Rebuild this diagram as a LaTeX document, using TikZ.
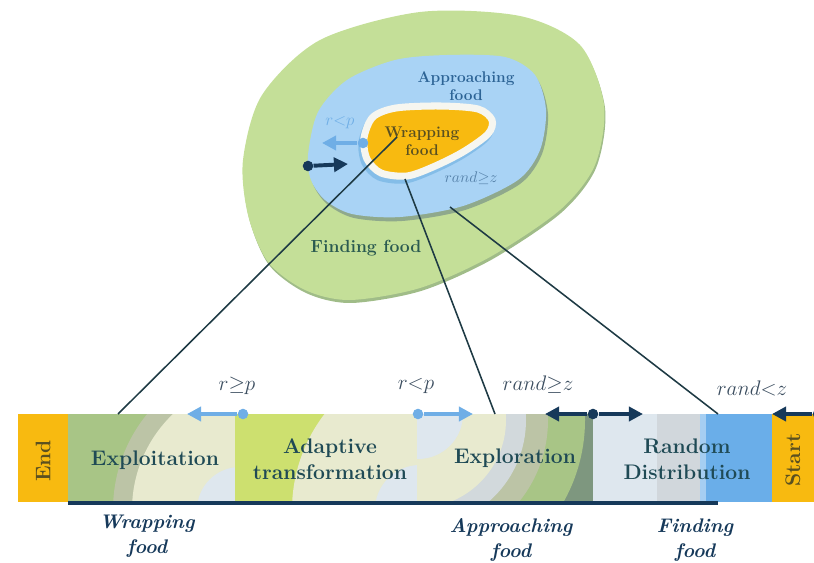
\RequirePackage{fix-cm}
\documentclass[tikz,border=0pt]{standalone}
\usepackage{amsmath}
\usepackage{amssymb}
\usetikzlibrary{shapes,arrows.meta,positioning}

\definecolor{foodorange}{HTML}{F8BA10}
\definecolor{findgreen}{HTML}{C4DF98}
\definecolor{findedge}{HTML}{A0BC88}
\definecolor{approblue}{HTML}{A9D3F5}
\definecolor{approedge}{HTML}{8FA98C}
\definecolor{ringwhite}{HTML}{F6F6F0}
\definecolor{ringshade}{HTML}{84BDE8}
\definecolor{navy}{HTML}{16395A}
\definecolor{lightblue}{HTML}{6FAEE6}
\definecolor{textteal}{HTML}{1F4A55}
\definecolor{approtext}{HTML}{2D6496}
\definecolor{wraptext}{HTML}{5A5020}
\definecolor{findtext}{HTML}{2A5A50}
\definecolor{condgray}{HTML}{3B4D5F}
\definecolor{linkcol}{HTML}{1E3A44}
\definecolor{exgreen}{HTML}{A8C586}
\definecolor{bandgray}{HTML}{BCC4A6}
\definecolor{palebeige}{HTML}{E8EACF}
\definecolor{paleblue}{HTML}{DEE7EE}
\definecolor{yellowgreen}{HTML}{CDE06F}
\definecolor{graybluebd}{HTML}{D2D9DC}
\definecolor{darkband}{HTML}{7E977F}
\definecolor{randgray}{HTML}{D1D7DC}
\definecolor{randblue}{HTML}{6AAEE9}

\newcommand\greenblob{plot[smooth cycle] coordinates {(243,160) (262,95) (320,40) (420,12) (520,16) (580,45) (604,105) (595,165) (560,210) (490,257) (420,288) (350,300) (305,290) (268,262) (248,215)}}
\newcommand\blueblob{plot[smooth cycle] coordinates {(308,155) (318,112) (347,80) (395,60) (447,55) (505,57) (535,75) (546,110) (540,150) (518,180) (463,206) (400,217) (352,214) (325,200) (311,180)}}
\newcommand\foodblob{plot[smooth cycle] coordinates {(364,138) (373,117) (396,108) (440,106) (478,109) (492,120) (488,134) (463,152) (433,167) (407,176) (381,173) (367,159)}}

\begin{document}
\begin{tikzpicture}[x=0.025cm,y=-0.025cm]
    \tikzset{
        blobtext/.style     =   { font=\bfseries\fontsize{11}{13}\selectfont
                                , align=center
                                , inner sep=0pt
                                }
        , bartext/.style    =   { font=\bfseries\fontsize{15}{18.5}\selectfont
                                , text=textteal
                                , align=center
                                , inner sep=0pt
                                }
        , phase/.style      =   { font=\bfseries\itshape\fontsize{14}{17.8}\selectfont
                                , text=navy
                                , align=center
                                , inner sep=0pt
                                }
        , cond/.style       =   { font=\fontsize{15}{18}\selectfont
                                , text=condgray
                                , inner sep=0pt
                                }
        , link/.style       =   { line width=1.1pt
                                , draw=linkcol
                                }
        , lightdot/.style   =   { circle
                                , fill=lightblue
                                , inner sep=0pt
                                , minimum size=7.5pt
                                }
        , darkdot/.style    =   { circle
                                , fill=navy
                                , inner sep=0pt
                                , minimum size=7.5pt
                                }
        , lightarr/.style   =   { line width=2.8pt
                                , draw=lightblue
                                , -{Triangle[length=10pt,width=10pt]}
                                }
        , darkarr/.style    =   { line width=2.8pt
                                , draw=navy
                                , -{Triangle[length=10pt,width=10pt]}
                                }
    }
    \useasboundingbox (0,0) rectangle (814,563);

    % food regions
    \fill[findedge,shift={(1,3)}] \greenblob;
    \fill[findgreen] \greenblob;
    \fill[approedge,shift={(2,4)}] \blueblob;
    \fill[approblue] \blueblob;
    \draw[ringshade,line width=5pt,fill=ringshade,shift={(-2,4)}] \foodblob;
    \draw[ringwhite,line width=5pt,fill=foodorange] \foodblob;

    \node(approach)[blobtext,text=approtext] at (466,86) {Approaching\\food};
    \node(wrap)[blobtext,text=wraptext] at (422,141) {Wrapping\\food};
    \node(find)[blobtext,text=findtext,font=\bfseries\fontsize{12.5}{15}\selectfont] at (366,248) {Finding food};
    \node(rp)[cond,text=lightblue,font=\fontsize{12}{14}\selectfont] at (340,123) {$r{<}p$};
    \node(rz)[cond,text=approtext!80,font=\fontsize{11}{13}\selectfont] at (471,178) {$rand{\geq}z$};

    \node(d1)[lightdot] at (363,143) {};
    \coordinate(t1) at (322,143);
    \node(d2)[darkdot] at (308,166) {};
    \coordinate(t2) at (348,164);
    \draw[lightarr] (d1) -- (t1);
    \draw[darkarr] (d2) -- (t2);

    % bar sections
    \fill[foodorange] (18,414) rectangle (68,502);
    \begin{scope}
        \clip (68,414) rectangle (235,502);
        \fill[exgreen] (68,414) rectangle (235,502);
        \fill[bandgray] (265,510) circle (152);
        \fill[palebeige] (265,510) circle (133);
        \fill[paleblue] (240,510) circle (43);
    \end{scope}
    \begin{scope}
        \clip (235,414) rectangle (417,502);
        \fill[yellowgreen] (235,414) rectangle (417,502);
        \fill[palebeige] (450,510) circle (158);
        \fill[paleblue] (420,510) circle (45);
    \end{scope}
    \begin{scope}
        \clip (417,414) rectangle (593,502);
        \fill[darkband] (417,414) rectangle (593,502);
        \fill[exgreen] (418,420) circle (167);
        \fill[bandgray] (418,420) circle (130);
        \fill[graybluebd] (418,420) circle (108);
        \fill[palebeige] (418,420) circle (88);
        \fill[paleblue] (418,414) circle (45);
    \end{scope}
    \fill[paleblue] (593,414) rectangle (657,502);
    \fill[randgray] (657,414) rectangle (700,502);
    \fill[randblue!60] (700,414) rectangle (706,502);
    \fill[randblue] (706,414) rectangle (772,502);
    \fill[foodorange] (772,414) rectangle (814,502);
    \draw[navy,line width=2.2pt] (68,503) -- (718,503);

    \node(end)[bartext,rotate=90,text=wraptext] at (43,461) {End};
    \node(expt)[bartext] at (155,460) {Exploitation};
    \node(adapt)[bartext] at (330,459) {Adaptive\\transformation};
    \node(explr)[bartext] at (515,458) {Exploration};
    \node(rand)[bartext] at (687,459) {Random\\Distribution};
    \node(start)[bartext,rotate=90,text=wraptext] at (793,460) {Start};

    \node(wrapph)[phase] at (147,536) {Wrapping\\food};
    \node(approph)[phase] at (511,540) {Approaching\\food};
    \node(findph)[phase] at (695,540) {Finding\\food};

    % switching conditions
    \node(c1)[cond] at (237,386) {$r{\geq}p$};
    \node(c2)[cond] at (416,386) {$r{<}p$};
    \node(c3)[cond] at (538,385) {$rand{\geq}z$};
    \node(c4)[cond] at (752,388) {$rand{<}z$};

    \node(b1)[lightdot] at (243,414) {};
    \coordinate(e1) at (187,414);
    \node(b2)[lightdot] at (418,414) {};
    \coordinate(e2) at (473,414);
    \node(b3)[darkdot] at (593,414) {};
    \coordinate(e3) at (545,414);
    \coordinate(e4) at (643,414);
    \node(b4)[darkdot] at (818,414) {};
    \coordinate(e5) at (772,414);
    \draw[lightarr] (b1) -- (e1);
    \draw[lightarr] (b2) -- (e2);
    \draw[darkarr] (b3) -- (e3);
    \draw[darkarr] (b3) -- (e4);
    \draw[darkarr] (b4) -- (e5);

    % zoom links
    \coordinate(w1) at (397,137);
    \coordinate(w2) at (118,414);
    \coordinate(a1) at (405,179);
    \coordinate(a2) at (495,414);
    \coordinate(f1) at (450,207);
    \coordinate(f2) at (718,414);
    \draw[link] (w1) -- (w2);
    \draw[link] (a1) -- (a2);
    \draw[link] (f1) -- (f2);
\end{tikzpicture}
\end{document}
